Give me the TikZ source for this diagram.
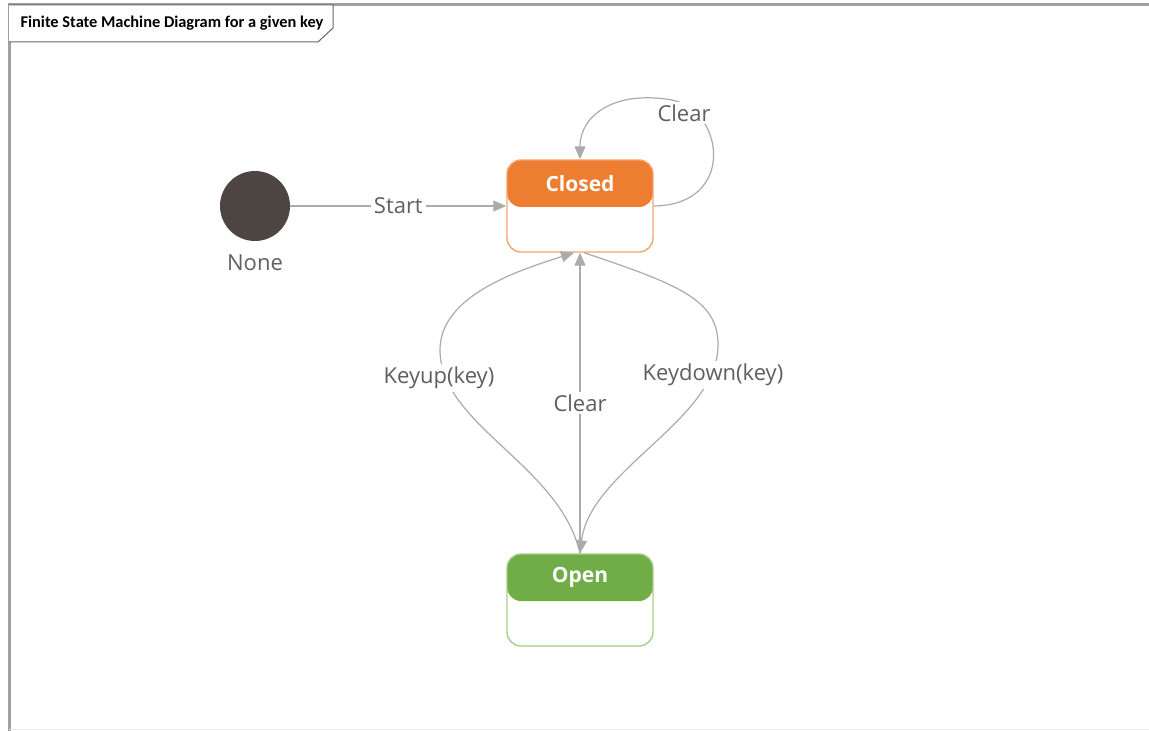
\documentclass[tikz,border=0pt]{standalone}
\usepackage{fontspec}
\setmainfont{Open Sans}
\newfontfamily\tabfont{Carlito}
\usetikzlibrary{arrows.meta,positioning}
\definecolor{closedorange}{HTML}{ED7D31}
\definecolor{closededge}{HTML}{F4A46E}
\definecolor{opengreen}{HTML}{70AD47}
\definecolor{openedge}{HTML}{A3CF87}
\definecolor{edgegray}{HTML}{ABABAB}
\definecolor{textgray}{HTML}{5F5F5F}
\definecolor{initdark}{HTML}{4D4541}
\definecolor{framegray}{HTML}{A0A0A0}

\begin{document}
\begin{tikzpicture}[x=0.5pt,y=-0.5pt,
  statebox/.style 2 args={draw=#2, line width=0.7pt, rounded corners=7pt,
    minimum width=73pt, minimum height=46pt, inner sep=0pt,
    path picture={\fill[#1] (path picture bounding box.north west)
      rectangle ([yshift=-23.5pt]path picture bounding box.north east);}},
  statetitle/.style={text=white, font=\bfseries\fontsize{10.5}{12}\selectfont, inner sep=0pt},
  initstate/.style={circle, fill=initdark, minimum size=35pt, inner sep=0pt},
  trans/.style={draw=edgegray, line width=0.6pt, -{Triangle[length=6.5pt,width=5.5pt]}},
  edgetext/.style={fill=white, text=textgray, inner sep=1.5pt, font=\fontsize{11}{13}\selectfont}]
\useasboundingbox (0,0) rectangle (1149,731);

\draw[framegray, line width=1.5pt] (9,731) -- (9,5) -- (1149,5);
\draw[black!8, line width=0.5pt] (9,729) -- (1149,729);
\draw[black!60, line width=0.5pt, fill=white] (9,5) -- (333,5) -- (333,28) -- (318,42) -- (9,42);
\node[font=\tabfont\bfseries\fontsize{8.2}{10}\selectfont, inner sep=0pt] (title) at (172,23) {Finite State Machine Diagram for a given key};

\node[initstate] (none) at (255,206) {};
\node[edgetext, below=5pt of none] (nonelabel) {None};
\node[statebox={closedorange}{closededge}] (closed) at (580,206) {};
\node[statetitle] (closedtitle) at ([yshift=-12pt]closed.north) {Closed};
\node[statebox={opengreen}{openedge}] (open) at (580,600) {};
\node[statetitle] (opentitle) at ([yshift=-12pt]open.north) {Open};

\draw[trans] (none) -- (closed) node[edgetext, midway] {Start};

\draw[trans] (closed.east) .. controls (737,205) and (724,110) .. (672,100)
  .. controls (615,90) and (580,115) .. (closed.north);
\node[edgetext] (loopclear) at (684,113) {Clear};

\draw[trans] (open.north) .. controls (560,465) and (440,425) .. (440,350)
  .. controls (440,295) and (520,270) .. ([xshift=-3pt]closed.south);
\node[edgetext] (keyup) at (439,378) {Keyup(key)};

\draw[trans] ([xshift=2pt]closed.south) .. controls (680,285) and (718,300) .. (718,345)
  .. controls (718,420) and (590,470) .. (open.north);
\node[edgetext] (keydown) at (713,375) {Keydown(key)};

\draw[trans] (open.north) -- (closed.south) node[edgetext, midway] {Clear};
\end{tikzpicture}
\end{document}
